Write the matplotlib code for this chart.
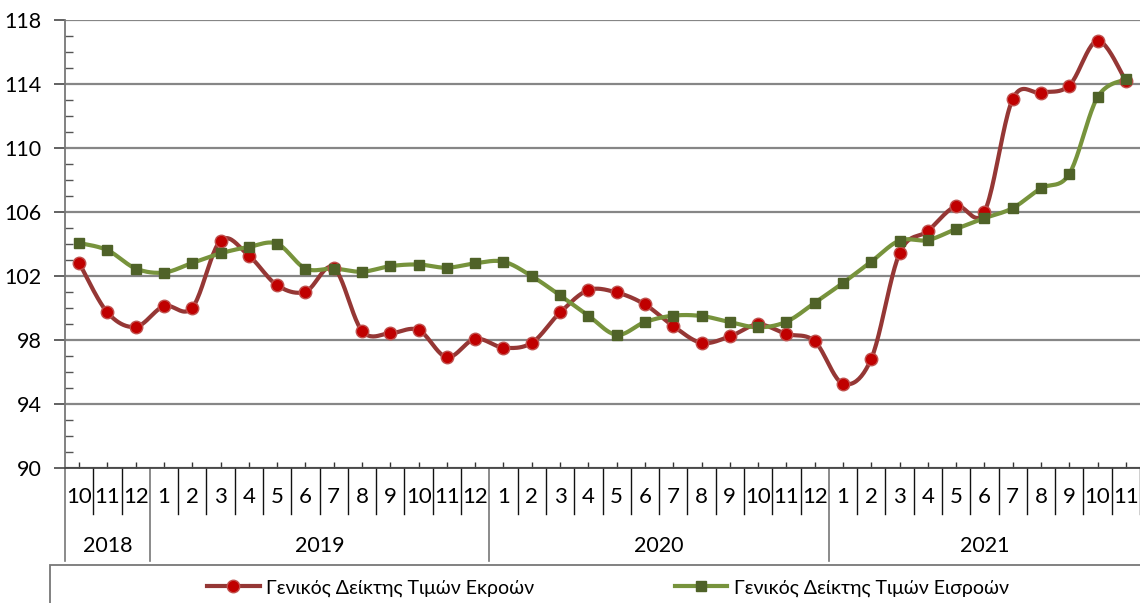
import numpy as np
import matplotlib.pyplot as plt
from matplotlib.patches import Rectangle

plt.rcParams['font.family'] = ['Lato', 'Open Sans', 'DejaVu Sans']

months = [10, 11, 12] + list(range(1, 13)) * 2 + list(range(1, 12))
years = ['2018', '2019', '2020', '2021']
year_len = [3, 12, 12, 11]

# Γενικός Δείκτης Τιμών Εκροών (outputs)
outputs = [102.8, 99.7, 98.8, 100.1, 100.0, 104.2, 103.25, 101.4, 101.0, 102.5,
           98.55, 98.4, 98.6, 96.9, 98.05, 97.5, 97.8, 99.7, 101.1, 100.95,
           100.2, 98.85, 97.8, 98.2, 98.95, 98.35, 97.9, 95.25, 96.8, 103.4,
           104.8, 106.35, 106.0, 113.05, 113.45, 113.9, 116.7, 114.2]
# Γενικός Δείκτης Τιμών Εισροών (inputs)
inputs = [104.05, 103.6, 102.45, 102.2, 102.8, 103.4, 103.8, 104.0, 102.45, 102.45,
          102.25, 102.6, 102.7, 102.5, 102.78, 102.88, 101.97, 100.77, 99.5, 98.3,
          99.1, 99.5, 99.48, 99.1, 98.77, 99.12, 100.3, 101.55, 102.88, 104.2,
          104.23, 104.93, 105.6, 106.23, 107.47, 108.37, 113.17, 114.3]

labels = ['Γενικός Δείκτης Τιμών Εκροών', 'Γενικός Δείκτης Τιμών Εισροών']


def smooth(x, y, n=24):
    """Excel-like smoothed line (Catmull-Rom bezier through the points)."""
    p = np.column_stack([x, y]).astype(float)
    p = np.vstack([p[0], p, p[-1]])
    t = np.linspace(0, 1, n)[:, None]
    out = []
    for i in range(1, len(p) - 2):
        b0, b3 = p[i], p[i + 1]
        b1 = b0 + (p[i + 1] - p[i - 1]) / 6
        b2 = b3 - (p[i + 2] - p[i]) / 6
        seg = ((1 - t) ** 3) * b0 + 3 * ((1 - t) ** 2) * t * b1 \
            + 3 * (1 - t) * t ** 2 * b2 + t ** 3 * b3
        out.append(seg if i == 1 else seg[1:])
    s = np.vstack(out)
    return s[:, 0], s[:, 1]


W, H = 1140, 603
fig = plt.figure(figsize=(W / 100, H / 100), dpi=100)
ax = fig.add_axes([65 / W, 1 - 467.5 / H, 1 - 65 / W, (467.5 - 20) / H])

x = np.arange(len(months))
red_line, red_mk = '#953735', '#C00000'
grn_line, grn_mk = '#77933C', '#4F6228'

sx, sy = smooth(x, outputs)
ax.plot(sx, sy, color=red_line, lw=3, zorder=3, solid_capstyle='round')
ax.plot(x, outputs, 'o', ms=9, mfc=red_mk, mec='#C0504D', mew=1, zorder=4)
sx, sy = smooth(x, inputs)
ax.plot(sx, sy, color=grn_line, lw=3, zorder=3, solid_capstyle='round')
ax.plot(x, inputs, 's', ms=7.5, mfc=grn_mk, mec=grn_mk, zorder=4)

ax.set_xlim(-0.5, len(months) - 0.5)
ax.set_ylim(90, 118)
ax.set_yticks(range(90, 119, 4))
ax.set_yticks(range(90, 119), minor=True)
ax.yaxis.grid(True, which='major', color='#868686', lw=1.6)
ax.set_axisbelow(True)
ax.tick_params(axis='y', which='major', direction='out', length=8, width=1.3,
               color='#555555', labelsize=15.5, pad=9)
ax.tick_params(axis='y', which='minor', direction='in', length=6, width=1,
               color='#555555')
ax.set_xticks(x)
ax.tick_params(axis='x', direction='in', length=4, width=1, color='#333333',
               labelbottom=False)
for s in ['top', 'right']:
    ax.spines[s].set_visible(False)
ax.spines['left'].set_color('#777777')
ax.spines['left'].set_linewidth(1.3)
ax.spines['bottom'].set_color('#444444')
ax.spines['bottom'].set_linewidth(1.3)

# multi-level category axis
hpx = 467.5 - 20


def fy(py):
    return -(py - 467.5) / hpx


starts = np.cumsum([0] + year_len)
year_bounds = set(starts[:-1])
for i in range(len(months) + 1):
    yb = i in year_bounds
    ax.plot([i - 0.5, i - 0.5], [0, fy(561 if yb else 514)],
            color='#777777' if yb else '#111111', lw=1.2 if yb else 1,
            transform=ax.get_xaxis_transform(), clip_on=False)
for i, m in enumerate(months):
    ax.text(i, fy(497), str(m), ha='center', va='center', fontsize=16,
            transform=ax.get_xaxis_transform())
for y, s0, n in zip(years, starts[:-1], year_len):
    ax.text(s0 + (n - 1) / 2, fy(546), y, ha='center', va='center', fontsize=15.5,
            transform=ax.get_xaxis_transform())

# legend box
fig.patches.append(Rectangle((50 / W, -0.1), 1.2, (0.1 + 1 - 565 / H),
                             transform=fig.transFigure, fill=False,
                             edgecolor='#777777', lw=1.3))
h1 = plt.Line2D([], [], color=red_line, lw=3, marker='o', ms=9, mfc=red_mk, mec='#C0504D')
h2 = plt.Line2D([], [], color=grn_line, lw=3, marker='s', ms=7.5, mfc=grn_mk, mec=grn_mk)
fig.legend([h1, h2], labels, loc='center', bbox_to_anchor=(608 / W, 1 - 588 / H),
           ncol=2, frameon=False, fontsize=14, handlelength=2.7,
           handletextpad=0.35, columnspacing=7.2, borderpad=0)

fig.savefig('out.png', dpi=100)
